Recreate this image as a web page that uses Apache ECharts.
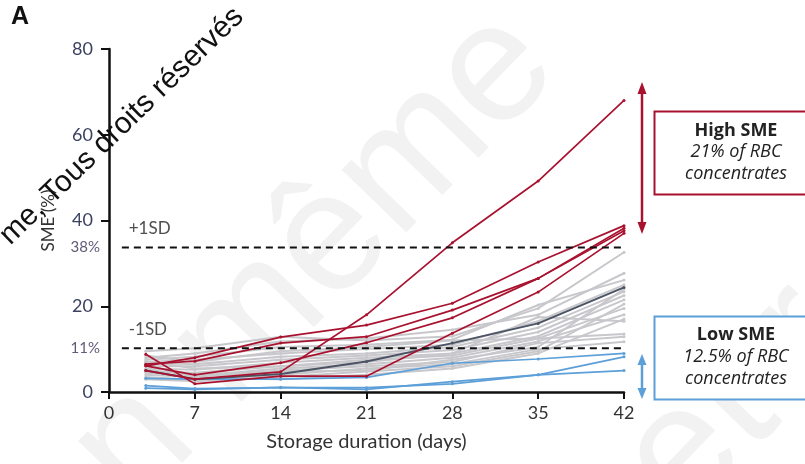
<!DOCTYPE html>
<html>
<head>
<meta charset="utf-8">
<script src="https://cdn.jsdelivr.net/npm/echarts@6/dist/echarts.min.js"></script>
<style>
  html, body { margin: 0; padding: 0; background: #fff; }
  #chart { width: 805px; height: 464px; }
</style>
</head>
<body>
<div id="chart"></div>
<script>
// Sampling days of the stored RBC concentrates
const days = [3, 7, 14, 21, 28, 35, 42];
const xTicks = [0, 7, 14, 21, 28, 35, 42];
const yTicks = [0, 20, 40, 60, 80];

// SME (%) per unit, high-SME units
const highSME = [
  [5.0, 3.0, 4.7, 18.0, 34.8, 49.2, 68.0],
  [8.8, 1.9, 3.7, 3.7, 13.7, 23.3, 37.0],
  [6.1, 8.0, 12.8, 15.6, 20.7, 30.3, 38.8],
  [6.5, 7.2, 11.4, 12.9, 19.1, 26.5, 38.2],
  [6.1, 4.0, 6.8, 11.5, 17.3, 26.5, 37.6]
];

// SME (%) per unit, low-SME units
const lowSME = [
  [3.2, 3.0, 3.0, 3.4, 6.7, 7.7, 9.0],
  [0.9, 0.6, 1.1, 0.6, 2.4, 4.0, 8.2],
  [1.5, 0.8, 1.0, 1.0, 1.9, 4.0, 5.0]
];

// Mean of all units
const meanSME = [5.0, 3.0, 4.2, 7.1, 11.4, 16.0, 24.4];

// Remaining units
const otherSME = [
  [9.5, 10.2, 12.9, 12.0, 13.0, 19.5, 32.6],
  [8.0, 9.0, 11.8, 12.5, 14.5, 18.0, 27.7],
  [7.5, 8.2, 10.5, 11.0, 12.2, 20.3, 26.1],
  [7.0, 7.5, 9.0, 10.0, 11.0, 16.5, 25.0],
  [6.8, 6.5, 8.2, 9.0, 10.5, 15.0, 23.4],
  [6.0, 6.0, 7.5, 8.5, 9.8, 14.0, 22.5],
  [5.5, 5.2, 6.8, 8.0, 9.0, 13.0, 21.5],
  [4.8, 4.5, 6.0, 7.5, 8.5, 12.5, 19.5],
  [4.5, 3.8, 5.5, 6.5, 8.0, 11.8, 18.0],
  [4.0, 3.5, 5.0, 6.0, 7.0, 11.4, 12.9],
  [3.5, 2.8, 4.0, 5.5, 6.5, 10.0, 11.7],
  [7.2, 5.5, 6.0, 7.0, 9.0, 17.5, 16.5],
  [3.0, 2.5, 3.5, 4.8, 6.0, 9.5, 20.5],
  [8.5, 7.0, 9.5, 10.5, 12.0, 12.5, 13.5],
  [5.2, 4.0, 4.8, 5.0, 7.5, 10.5, 24.0],
  [6.5, 3.2, 3.0, 4.0, 5.5, 9.0, 17.0]
];

// ±1 SD thresholds (axis position) and their printed labels
const sdLevels = [33.7, 10.2];
const sdValueLabels = ['38%', '11%'];
const sdNames = ['+1SD', '-1SD'];
const sdSpan = [1.05, 42.8];

const FONT = 'Lato';
const RED = '#a9122f';
const BLUE = '#5d9fd8';
const DARK = '#4b5364';
const GREY = '#c8c8cc';

function lineSeries(vals, color, width, z) {
  return {
    type: 'line',
    data: days.map((d, i) => [d, vals[i]]),
    symbol: 'circle',
    symbolSize: 3,
    showSymbol: true,
    itemStyle: { color: color },
    lineStyle: { color: color, width: width },
    z: z,
    silent: true,
    animation: false
  };
}

const series = [];
otherSME.forEach(v => series.push(lineSeries(v, GREY, 2, 2)));
lowSME.forEach(v => series.push(lineSeries(v, BLUE, 1.7, 3)));
series.push(lineSeries(meanSME, DARK, 2, 4));
highSME.forEach(v => series.push(lineSeries(v, RED, 1.7, 5)));

sdLevels.forEach((lvl, k) => {
  series.push({
    type: 'line',
    data: [[sdSpan[0], lvl], [sdSpan[1], lvl]],
    symbol: 'none',
    clip: false,
    lineStyle: { color: '#111', width: 2, type: [7, 5] },
    z: 6,
    silent: true,
    animation: false
  });
  series.push({
    type: 'scatter',
    data: [[0, lvl]],
    symbolSize: 0,
    clip: false,
    label: {
      show: true, position: 'left', distance: 9,
      formatter: sdValueLabels[k],
      fontFamily: FONT, fontSize: 15, color: '#3a2f55'
    },
    silent: true,
    animation: false
  });
  series.push({
    type: 'scatter',
    data: [[1.2, lvl]],
    symbolSize: 0,
    clip: false,
    label: {
      show: true, position: 'insideBottomLeft', offset: [0, -5],
      formatter: sdNames[k],
      fontFamily: FONT, fontSize: 17, color: '#222'
    },
    silent: true,
    animation: false
  });
});

const chart = echarts.init(document.getElementById('chart'), null, { renderer: 'canvas' });

chart.setOption({
  animation: false,
  backgroundColor: '#fff',
  grid: { left: 109, right: 181, top: 49, bottom: 72, containLabel: false },
  xAxis: {
    type: 'value', min: xTicks[0], max: xTicks[xTicks.length - 1], interval: 7,
    name: 'Storage duration (days)', nameLocation: 'middle', nameGap: 40,
    nameTextStyle: { fontFamily: FONT, fontSize: 20, color: '#333' },
    axisLine: { lineStyle: { color: '#111', width: 2.5 } },
    axisTick: { length: 7, lineStyle: { color: '#111', width: 2 } },
    axisLabel: { fontFamily: FONT, fontSize: 18, color: '#333', margin: 12 },
    splitLine: { show: false }
  },
  yAxis: {
    type: 'value', min: yTicks[0], max: yTicks[yTicks.length - 1], interval: 20,
    name: 'SME (%)', nameLocation: 'middle', nameGap: 52, nameRotate: 90,
    nameTextStyle: { fontFamily: FONT, fontSize: 17, color: '#333' },
    axisLine: { show: true, lineStyle: { color: '#111', width: 2.5 } },
    axisTick: { show: true, length: 8, lineStyle: { color: '#111', width: 2 } },
    axisLabel: { fontFamily: FONT, fontSize: 18, color: '#3b4260', margin: 16 },
    splitLine: { show: false }
  },
  series: series,
  graphic: [
    // faint background watermark
    {
      type: 'text', x: 40, y: 420, rotation: 0.8, z: -10, silent: true,
      style: { text: 'n même', font: '170px "Liberation Sans"', fill: '#f2f2f2' }
    },
    {
      type: 'text', x: 590, y: 430, rotation: 0.8, z: -10, silent: true,
      style: { text: 'et r', font: '170px "Liberation Sans"', fill: '#f2f2f2' }
    },
    // panel letter
    {
      type: 'text', x: 11, y: 5, silent: true,
      style: { text: 'A', font: 'bold 25px "Liberation Sans"', fill: '#111' }
    },
    // copyright overlay
    {
      type: 'text', x: -6, y: 229, rotation: 0.77, z: 100, silent: true,
      style: { text: 'me, Tous droits réservés', font: '30px "Liberation Sans"', fill: '#111' }
    },
    // high SME range arrow
    {
      type: 'group', silent: true,
      children: [
        { type: 'line', shape: { x1: 642, y1: 90, x2: 642, y2: 226 }, style: { stroke: RED, lineWidth: 2.5 } },
        { type: 'polygon', shape: { points: [[642, 82], [637.5, 94], [646.5, 94]] }, style: { fill: RED } },
        { type: 'polygon', shape: { points: [[642, 234], [637.5, 222], [646.5, 222]] }, style: { fill: RED } }
      ]
    },
    // low SME range arrow
    {
      type: 'group', silent: true,
      children: [
        { type: 'line', shape: { x1: 642, y1: 360, x2: 642, y2: 393 }, style: { stroke: BLUE, lineWidth: 2.5 } },
        { type: 'polygon', shape: { points: [[642, 354], [637.5, 365], [646.5, 365]] }, style: { fill: BLUE } },
        { type: 'polygon', shape: { points: [[642, 399], [637.5, 388], [646.5, 388]] }, style: { fill: BLUE } }
      ]
    },
    // high SME box
    {
      type: 'rect', silent: true,
      shape: { x: 654.5, y: 111.5, width: 160, height: 83 },
      style: { fill: '#fff', stroke: RED, lineWidth: 2 }
    },
    {
      type: 'text', x: 736, y: 131, silent: true,
      style: { text: 'High SME', font: 'bold 18px "Open Sans"', fill: '#222', textAlign: 'center', textVerticalAlign: 'middle' }
    },
    {
      type: 'text', x: 736, y: 152, silent: true,
      style: { text: '21% of RBC', font: 'italic 18px "Open Sans"', fill: '#222', textAlign: 'center', textVerticalAlign: 'middle' }
    },
    {
      type: 'text', x: 736, y: 174, silent: true,
      style: { text: 'concentrates', font: 'italic 18px "Open Sans"', fill: '#222', textAlign: 'center', textVerticalAlign: 'middle' }
    },
    // low SME box
    {
      type: 'rect', silent: true,
      shape: { x: 654.5, y: 316.5, width: 160, height: 83 },
      style: { fill: '#fff', stroke: BLUE, lineWidth: 2 }
    },
    {
      type: 'text', x: 736, y: 335, silent: true,
      style: { text: 'Low SME', font: 'bold 18px "Open Sans"', fill: '#222', textAlign: 'center', textVerticalAlign: 'middle' }
    },
    {
      type: 'text', x: 736, y: 357, silent: true,
      style: { text: '12.5% of RBC', font: 'italic 18px "Open Sans"', fill: '#222', textAlign: 'center', textVerticalAlign: 'middle' }
    },
    {
      type: 'text', x: 736, y: 379, silent: true,
      style: { text: 'concentrates', font: 'italic 18px "Open Sans"', fill: '#222', textAlign: 'center', textVerticalAlign: 'middle' }
    }
  ]
});
</script>
</body>
</html>
